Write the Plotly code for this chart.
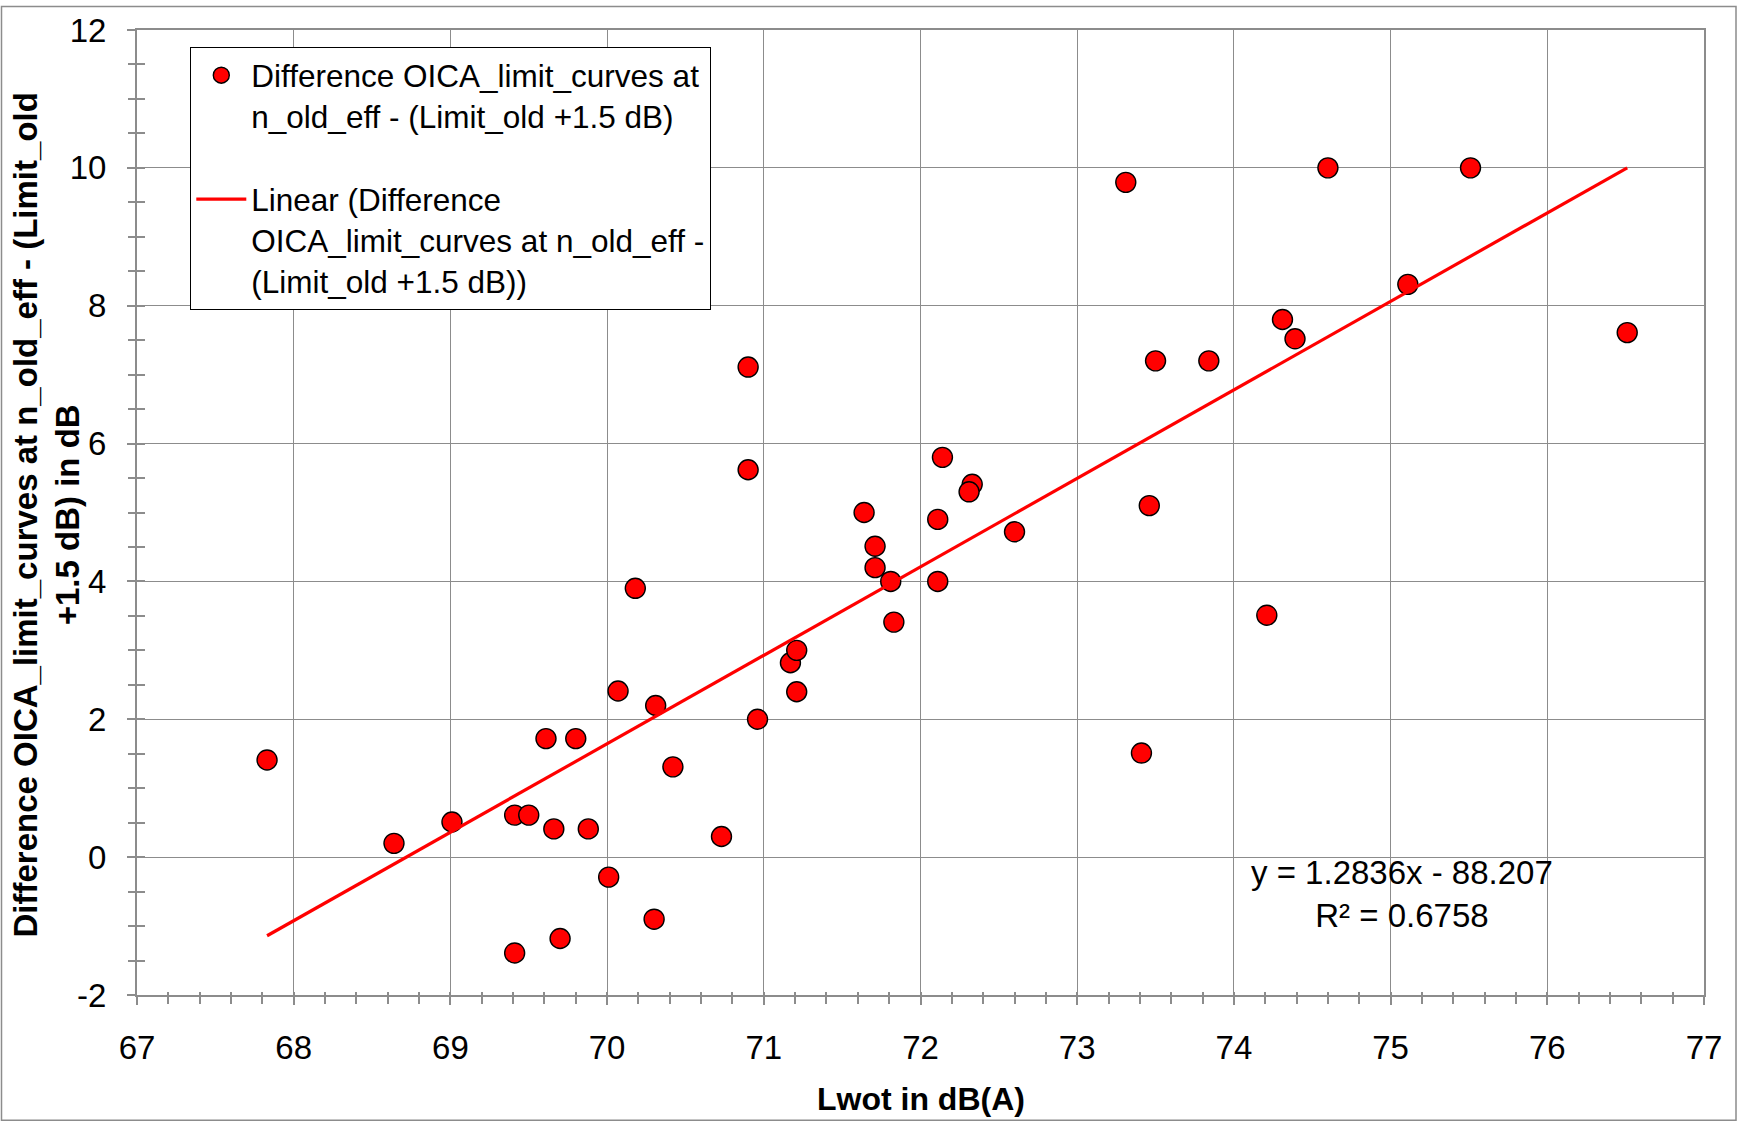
import plotly.graph_objects as go

# ---- data ----
lwot = [67.83, 68.64, 69.01, 69.41, 69.50, 69.61, 69.66, 69.80, 69.88, 69.41,
        69.70, 70.01, 70.07, 70.18, 70.30, 70.31, 70.42, 70.73, 70.90, 70.90,
        70.96, 71.17, 71.21, 71.21, 71.64, 71.71, 71.71, 71.81, 71.83, 72.11,
        72.11, 72.14, 72.33, 72.31, 72.60, 73.31, 73.41, 73.46, 73.50, 73.84,
        74.21, 74.31, 74.39, 74.60, 75.11, 75.51, 76.51]
diff = [1.41, 0.20, 0.51, 0.61, 0.61, 1.72, 0.41, 1.72, 0.41, -1.39,
        -1.18, -0.29, 2.41, 3.90, -0.90, 2.20, 1.31, 0.30, 7.11, 5.62,
        2.00, 2.82, 3.00, 2.40, 5.00, 4.51, 4.20, 4.00, 3.41, 4.90,
        4.00, 5.80, 5.41, 5.30, 4.72, 9.79, 1.51, 5.10, 7.20, 7.20,
        3.51, 7.80, 7.52, 10.00, 8.31, 10.00, 7.61]

slope = 1.2836
intercept = -88.207
r_squared = 0.6758

x_range = [67, 77]
y_range = [-2, 12]
x_tickvals = [67, 68, 69, 70, 71, 72, 73, 74, 75, 76, 77]
x_ticktext = ["67", "68", "69", "70", "71", "72", "73", "74", "75", "76", "77"]
y_tickvals = [-2, 0, 2, 4, 6, 8, 10, 12]
y_ticktext = ["-2", "0", "2", "4", "6", "8", "10", "12"]

series_name = "Difference OICA_limit_curves at<br>n_old_eff - (Limit_old +1.5 dB)"
trend_name = "Linear (Difference<br>OICA_limit_curves at n_old_eff -<br>(Limit_old +1.5 dB))"
x_title = "Lwot in dB(A)"
y_title = "Difference OICA_limit_curves at n_old_eff - (Limit_old<br>+1.5 dB) in dB"
eq_text = "y = 1.2836x - 88.207<br>R² = 0.6758"

# ---- layout constants ----
W, H = 1738, 1123
L, R, T, B = 137, 34, 25, 128
pw, ph = W - L - R, H - T - B
FONT = "Liberation Sans, Arial, sans-serif"
GRID = "#8c8c8c"

def px_to_paper_x(px):
    return (px - L) / pw

def px_to_paper_y(py):
    return 1 - (py - T) / ph

fig = go.Figure()

fig.add_trace(go.Scatter(
    x=lwot, y=diff, mode="markers", name=series_name, legendgroup="a",
    marker=dict(size=20, color="#ff0000", line=dict(color="black", width=1.4)),
))

tx = [min(lwot), max(lwot)]
ty = [slope * v + intercept for v in tx]
fig.add_trace(go.Scatter(
    x=tx, y=ty, mode="lines", name=trend_name, legendgroup="b",
    line=dict(color="#ff0000", width=3.2),
))

# overlay trace for inside minor ticks
fig.add_trace(go.Scatter(x=[None], y=[None], xaxis="x2", yaxis="y2",
                         showlegend=False, hoverinfo="skip"))

axis_common = dict(
    showgrid=True, gridcolor=GRID, gridwidth=1.4,
    showline=True, linecolor=GRID, linewidth=2, mirror=True,
    zeroline=False, ticks="outside", ticklen=8, tickwidth=1.5, tickcolor=GRID,
    tickfont=dict(family=FONT, size=33, color="black"),
    tickmode="array",
)

fig.update_layout(
    width=W, height=H,
    margin=dict(l=L, r=R, t=T, b=B, pad=0),
    paper_bgcolor="white", plot_bgcolor="white",
    font=dict(family=FONT, size=33, color="black"),
    xaxis=dict(range=x_range, tickvals=x_tickvals, ticktext=x_ticktext,
               ticklabelstandoff=14,
               minor=dict(ticks="outside", ticklen=7, dtick=0.2, tick0=67,
                          tickcolor=GRID, tickwidth=1.5, showgrid=False),
               **axis_common),
    yaxis=dict(range=y_range, tickvals=y_tickvals, ticktext=y_ticktext,
               ticklabelstandoff=14,
               minor=dict(ticks="outside", ticklen=7, dtick=0.5, tick0=-2,
                          tickcolor=GRID, tickwidth=1.5, showgrid=False),
               **axis_common),
    xaxis2=dict(range=x_range, overlaying="x", anchor="y2", side="bottom",
                showgrid=False, zeroline=False, showticklabels=False,
                ticks="inside", ticklen=3, dtick=0.2, tick0=67,
                tickcolor=GRID, tickwidth=1.5, showline=False),
    yaxis2=dict(range=y_range, overlaying="y", anchor="x2", side="left",
                showgrid=False, zeroline=False, showticklabels=False,
                ticks="inside", ticklen=8, dtick=0.5, tick0=-2,
                tickcolor=GRID, tickwidth=1.5, showline=False),
    showlegend=True,
    legend=dict(
        x=px_to_paper_x(190), y=px_to_paper_y(42), xanchor="left", yanchor="top",
        bgcolor="white", bordercolor="black", borderwidth=1.3,
        font=dict(family=FONT, size=31.5, color="black"),
        tracegroupgap=39, valign="top", itemwidth=50,
    ),
    annotations=[
        dict(text=x_title, xref="paper", yref="paper",
             x=0.5, y=px_to_paper_y(1100), xanchor="center", yanchor="middle",
             showarrow=False, font=dict(family=FONT, size=32, color="black", weight="bold")),
        dict(text=y_title, xref="paper", yref="paper", textangle=-90,
             x=px_to_paper_x(47), y=px_to_paper_y(513), xanchor="center", yanchor="middle",
             showarrow=False, align="center",
             font=dict(family=FONT, size=33, color="black", weight="bold")),
        dict(text=eq_text, xref="x", yref="y", x=75.07, y=-0.54,
             xanchor="center", yanchor="middle", showarrow=False, align="center",
             font=dict(family=FONT, size=33, color="black")),
    ],
    shapes=[
        dict(type="rect", xref="paper", yref="paper",
             x0=px_to_paper_x(1.5), x1=px_to_paper_x(W - 2),
             y0=px_to_paper_y(H - 2), y1=px_to_paper_y(1.5),
             line=dict(color="#8c8c8c", width=1.5), layer="below"),
    ],
)

fig.write_html(
    "out.html",
    config={"displayModeBar": False},
    post_script="document.body.style.margin='0';document.body.style.overflow='hidden';",
)
